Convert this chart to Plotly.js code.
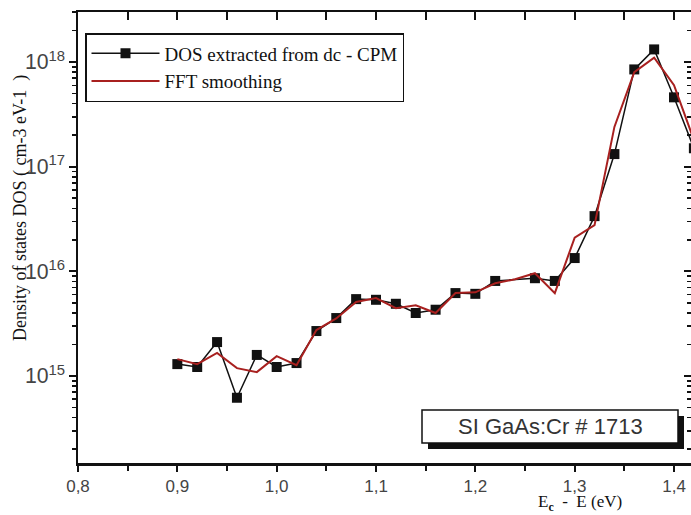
<!DOCTYPE html>
<html>
<head>
<meta charset="utf-8">
<script src="https://cdn.plot.ly/plotly-3.0.1.min.js"></script>
<style>html,body{margin:0;padding:0;background:#fff;overflow:hidden;}</style>
</head>
<body>
<div id="chart" style="width:691px;height:515px;"></div>
<script>
// Energy Ec - E (eV)
const energyDOS = [0.90,0.92,0.94,0.96,0.98,1.00,1.02,1.04,1.06,1.08,1.10,1.12,1.14,1.16,1.18,1.20,1.22,1.26,1.28,1.30,1.32,1.34,1.36,1.38,1.40,1.42];
const dosCPM   = [1.30e15,1.22e15,2.11e15,6.2e14,1.59e15,1.22e15,1.33e15,2.69e15,3.58e15,5.43e15,5.35e15,4.9e15,4.0e15,4.3e15,6.2e15,6.1e15,8.1e15,8.6e15,8.1e15,1.34e16,3.37e16,1.32e17,8.5e17,1.32e18,4.6e17,1.5e17];
const energyFFT = [0.90,0.92,0.94,0.96,0.98,1.00,1.02,1.04,1.06,1.08,1.10,1.12,1.14,1.16,1.18,1.20,1.22,1.24,1.26,1.28,1.30,1.32,1.34,1.36,1.38,1.40,1.42];
const dosFFT   = [1.45e15,1.30e15,1.66e15,1.19e15,1.09e15,1.55e15,1.27e15,2.75e15,3.55e15,5.1e15,5.55e15,4.45e15,4.75e15,4.0e15,6.2e15,6.3e15,7.7e15,8.4e15,9.6e15,6.2e15,2.1e16,2.76e16,2.4e17,8.0e17,1.1e18,6.0e17,1.8e17];
const seriesNames = ["DOS extracted from dc - CPM", "FFT smoothing"];
const sampleLabel = "SI GaAs:Cr # 1713";

const xr = [0.8, 1.4171];
const yr = [14.169, 18.478];
const L = 78, T = 12, B = 463, R = 691;
const W = R - L, H = B - T;
const px = v => (v - L) / W;
const py = v => (B - v) / H;

const traces = [
  {x: energyDOS, y: dosCPM, name: seriesNames[0], type: 'scatter', mode: 'lines+markers',
   line: {color: '#111', width: 1.5}, marker: {symbol: 'square', size: 10, color: '#111'}},
  {x: energyFFT, y: dosFFT, name: seriesNames[1], type: 'scatter', mode: 'lines',
   line: {color: '#a8201f', width: 2}}
];

const tickFontX = {family: 'Liberation Sans, Arial, sans-serif', size: 17, color: '#444'};
const tickFontY = {family: 'Liberation Sans, Arial, sans-serif', size: 17, color: '#444'};

const layout = {
  width: 691, height: 515,
  margin: {l: L, r: 0, t: T, b: 515 - B, pad: 0},
  paper_bgcolor: '#fff', plot_bgcolor: '#fff',
  separators: ', ',
  showlegend: true,
  xaxis: {range: xr, dtick: 0.1, tick0: 0.8, showgrid: false, zeroline: false,
    showline: true, linewidth: 2.5, linecolor: '#111', mirror: true,
    ticks: 'outside', ticklen: 6, tickwidth: 2, tickcolor: '#111',
    minor: {dtick: 0.05, ticks: 'outside', ticklen: 5, tickwidth: 2, tickcolor: '#111', showgrid: false},
    tickfont: tickFontX, tickformat: '.1f'},
  yaxis: {type: 'log', range: yr, dtick: 1, showgrid: false, zeroline: false,
    showline: true, linewidth: 2.5, linecolor: '#111', mirror: true,
    ticks: 'outside', ticklen: 7, tickwidth: 2, tickcolor: '#111',
    minor: {ticks: 'outside', ticklen: 4, tickwidth: 1.5, tickcolor: '#111', showgrid: false},
    exponentformat: 'power', tickfont: tickFontY},
  xaxis2: {overlaying: 'x', side: 'top', anchor: 'y', range: xr, dtick: 0.1, tick0: 0.8,
    showgrid: false, zeroline: false, showline: false, showticklabels: false,
    ticks: 'inside', ticklen: 8, tickwidth: 2, tickcolor: '#111',
    minor: {dtick: 0.05, ticks: 'inside', ticklen: 8, tickwidth: 2, tickcolor: '#111', showgrid: false}},
  yaxis2: {overlaying: 'y', side: 'right', anchor: 'x', type: 'log', range: yr, dtick: 1,
    showgrid: false, zeroline: false, showline: false, showticklabels: false,
    ticks: 'inside', ticklen: 7, tickwidth: 2, tickcolor: '#111',
    minor: {ticks: 'inside', ticklen: 4, tickwidth: 1.5, tickcolor: '#111', showgrid: false}},
  legend: {x: px(85), y: py(33), xanchor: 'left', yanchor: 'top',
    bgcolor: '#fff', bordercolor: '#111', borderwidth: 1.5, itemwidth: 68,
    font: {family: 'Liberation Serif, Times New Roman, serif', size: 19, color: '#111'},
    tracegroupgap: 0},
  shapes: [
    {type: 'rect', xref: 'paper', yref: 'paper', x0: px(428), x1: px(684), y0: py(416), y1: py(449),
     fillcolor: '#111', line: {width: 0}},
    {type: 'rect', xref: 'paper', yref: 'paper', x0: px(422), x1: px(678), y0: py(410), y1: py(443),
     fillcolor: '#fff', line: {color: '#111', width: 1.5}}
  ],
  annotations: [
    {text: sampleLabel, xref: 'paper', yref: 'paper', x: px(550), y: py(426.5), showarrow: false,
     xanchor: 'center', yanchor: 'middle',
     font: {family: 'Liberation Sans, Arial, sans-serif', size: 22, color: '#333'}},
    {text: 'Density of states DOS ( cm-3 eV-1  )', xref: 'paper', yref: 'paper',
     x: px(20), y: py(208), showarrow: false, textangle: -90, xanchor: 'center', yanchor: 'middle',
     font: {family: 'Liberation Serif, Times New Roman, serif', size: 18, color: '#111'}},
    {text: 'E<sub><b>c</b></sub>  -  E (eV)', xref: 'paper', yref: 'paper',
     x: px(580), y: py(503), showarrow: false, xanchor: 'center', yanchor: 'middle', borderpad: 0,
     font: {family: 'Liberation Serif, Times New Roman, serif', size: 17, color: '#111'}}
  ]
};

// invisible trace binding the mirrored tick axes
traces.push({x: [1.0], y: [1e16], xaxis: 'x2', yaxis: 'y2', mode: 'markers',
  marker: {opacity: 0}, showlegend: false, hoverinfo: 'skip'});

Plotly.newPlot('chart', traces, layout, {staticPlot: true, displayModeBar: false});
</script>
</body>
</html>
